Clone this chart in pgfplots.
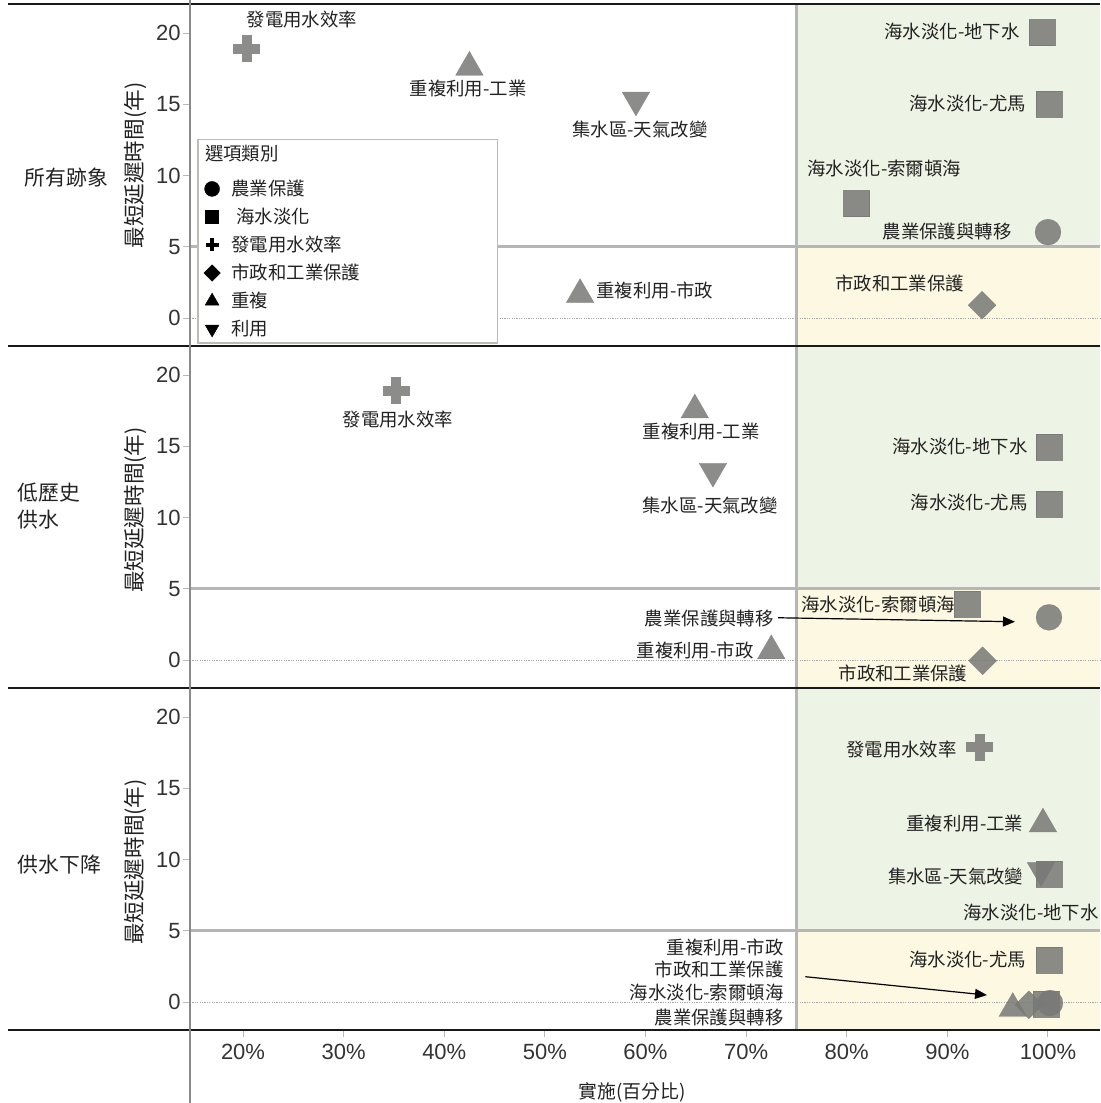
\documentclass[border=0pt]{standalone}
\usepackage{fontspec}
\setmainfont{Noto Sans CJK TC}
\newfontfamily\arialf{Liberation Sans}
\usepackage{pgfplots}
\pgfplotsset{compat=1.18}
\usetikzlibrary{arrows.meta}

\definecolor{mkgray}{HTML}{787876}
\definecolor{greenbg}{HTML}{EEF4E5}
\definecolor{yellowbg}{HTML}{FDF8E1}
\definecolor{refline}{HTML}{B6B6B6}
\definecolor{axisgray}{HTML}{8A8A8A}
\definecolor{tickc}{HTML}{333333}
\definecolor{txt}{HTML}{222222}
\definecolor{legframe}{HTML}{BEBBB2}

\newcommand\lbl{\fontsize{9.2}{11}\selectfont}
\newcommand\rowf{\fontsize{10.4}{13.5}\selectfont}
\newcommand\ylf{\fontsize{10.8}{13}\selectfont}
\newcommand\tickf{\arialf\fontsize{11}{13}\selectfont}

\tikzset{
  mkopt/.style={draw=mkgray, fill=mkgray, opacity=0.85, line width=0.1pt},
  lab/.style={font=\lbl, text=txt, inner sep=0pt},
}
\pgfplotsset{
  panel/.style={
    scale only axis, width=455pt, height=171pt,
    xmin=14.73, xmax=105.17, ymin=-1.96, ymax=22.04,
    axis x line*=bottom, axis y line*=left, xtick=\empty,
    axis line style={draw=axisgray, line width=0.6pt},
    ytick={0,5,10,15,20},
    tick align=outside, major tick length=3.5pt,
    tick style={draw=axisgray!60, line width=0.5pt},
    yticklabel style={font=\tickf, text=tickc, inner xsep=1pt},
    /pgf/number format/assume math mode=true,
    clip=false,
  },
  circ/.style={only marks, forget plot, mark=*, mark size=6.5pt, mark options={mkopt}},
  sq/.style={only marks, forget plot, mark=square*, mark size=6.5pt, mark options={mkopt}},
  pl/.style={only marks, forget plot, mark=+, mark size=6.75pt, mark options={draw=mkgray, opacity=0.85, line width=5pt}},
  dia/.style={only marks, forget plot, mark=square*, mark size=4.95pt, mark options={mkopt, rotate=45}},
  tri/.style={only marks, forget plot, mark=triangle*, mark size=8pt, mark options={mkopt}},
  dtri/.style={only marks, forget plot, mark=triangle*, mark size=8pt, mark options={mkopt, rotate=180}},
}
\newcommand\zones{%
  \fill[greenbg] (axis cs:75,5) rectangle (axis cs:105.17,22.04);
  \fill[yellowbg] (axis cs:75,-1.96) rectangle (axis cs:105.17,5);
  \draw[refline, line width=1.5pt] (axis cs:14.73,5) -- (axis cs:105.17,5);
  \draw[refline, line width=1.5pt] (axis cs:75,-1.96) -- (axis cs:75,22.04);
  \draw[gray!70, line width=0.4pt, dash pattern=on 0.6pt off 0.6pt] (axis cs:14.73,0) -- (axis cs:105.17,0);
}

\begin{document}
\begin{tikzpicture}
\path[use as bounding box] (0pt,0pt) rectangle (550pt,-551.5pt);

% ---- 所有跡象 ----
\begin{axis}[panel, at={(95pt,-2pt)}, anchor=north west,
  legend image code/.code={\path (0pt,0pt) (14pt,0pt); \draw[#1, only marks, line width=0.2pt] plot coordinates {(6.6pt,0pt)};},
  legend style={at={(axis description cs:0.00824,0.605)}, anchor=north west,
    draw=legframe, line width=0.7pt, fill=white, font=\lbl, text=txt,
    inner xsep=0pt, inner ysep=1.5pt, row sep=2.75pt,
    nodes={inner xsep=2pt, inner ysep=1pt}},
  legend cell align=left]
\zones
\addlegendimage{empty legend}
\addlegendimage{black, mark=*, mark size=3.75pt}
\addlegendimage{black, mark=square*, mark size=3.25pt}
\addlegendimage{black, mark=+, mark size=3.25pt, mark options={line width=2pt}}
\addlegendimage{black, mark=square*, mark size=2.9pt, mark options={rotate=45}}
\addlegendimage{black, mark=triangle*, mark size=4pt}
\addlegendimage{black, mark=triangle*, mark size=4pt, mark options={rotate=180}}
\addplot[circ] coordinates {(100.0,6.03)};
\addplot[sq] coordinates {(99.4,20.04) (100.1,15.0) (80.97,8.04)};
\addplot[pl] coordinates {(20.35,18.9)};
\addplot[dia] coordinates {(93.45,0.9)};
\addplot[tri] coordinates {(42.5,17.6) (53.5,1.65)};
\addplot[dtri] coordinates {(59.05,15.3)};
\node[lab] at (axis cs:25.86,20.98) {發電用水效率};
\node[lab] at (axis cs:42.36,16.14) {重複利用-工業};
\node[lab] at (axis cs:59.45,13.26) {集水區-天氣改變};
\node[lab,anchor=east] at (axis cs:97.22,20.14) {海水淡化-地下水};
\node[lab,anchor=east] at (axis cs:97.86,15.09) {海水淡化-尤馬};
\node[lab,anchor=west] at (axis cs:76.05,10.46) {海水淡化-索爾頓海};
\node[lab,anchor=east] at (axis cs:96.42,6.04) {農業保護與轉移};
\node[lab,anchor=west] at (axis cs:78.83,2.46) {市政和工業保護};
\node[lab,anchor=west] at (axis cs:55.08,1.96) {重複利用-市政};
\legend{\hspace*{-13.25pt}\raisebox{3.5pt}{選項類別}, 農業保護, \hspace*{2.5pt}海水淡化, 發電用水效率,
  \makebox[131pt][l]{市政和工業保護}, 重複, 利用}
\end{axis}

% ---- 低歷史供水 ----
\begin{axis}[panel, at={(95pt,-173pt)}, anchor=north west]
\zones
\addplot[circ] coordinates {(100.1,3.0)};
\addplot[sq] coordinates {(100.1,14.95) (100.1,10.95) (92.0,3.95)};
\addplot[pl] coordinates {(35.25,18.9)};
\addplot[dia] coordinates {(93.5,-0.05)};
\addplot[tri] coordinates {(64.9,17.55) (72.5,0.65)};
\addplot[dtri] coordinates {(66.7,13.25)};
\node[lab] at (axis cs:35.40,16.91) {發電用水效率};
\node[lab] at (axis cs:65.52,16.07) {重複利用-工業};
\node[lab] at (axis cs:66.41,10.88) {集水區-天氣改變};
\node[lab,anchor=east] at (axis cs:98.01,15.02) {海水淡化-地下水};
\node[lab,anchor=east] at (axis cs:98.01,11.09) {海水淡化-尤馬};
\node[lab,anchor=west] at (axis cs:75.45,3.93) {海水淡化-索爾頓海};
\node[lab,anchor=east] at (axis cs:72.77,2.95) {農業保護與轉移};
\node[lab,anchor=east] at (axis cs:70.78,0.70) {重複利用-市政};
\node[lab] at (axis cs:85.59,-0.91) {市政和工業保護};
\draw[-{Triangle[length=6pt,width=5pt]}, line width=0.6pt, black] (axis cs:73.17,2.97) -- (axis cs:96.72,2.69);
\end{axis}

% ---- 供水下降 ----
\begin{axis}[panel, at={(95pt,-344pt)}, anchor=north west,
  xtick={20,30,40,50,60,70,80,90,100},
  xticklabels={20\%,30\%,40\%,50\%,60\%,70\%,80\%,90\%,100\%},
  xticklabel style={font=\tickf, text=tickc}]
\zones
\addplot[circ] coordinates {(100.2,-0.07)};
\addplot[sq] coordinates {(100.1,8.98) (100.1,2.98) (99.8,-0.12)};
\addplot[pl] coordinates {(93.2,17.9)};
\addplot[dia] coordinates {(98.1,-0.19)};
\addplot[tri] coordinates {(99.5,12.5) (96.5,-0.45)};
\addplot[dtri] coordinates {(99.3,9.24)};
\node[lab,anchor=east] at (axis cs:90.96,17.75) {發電用水效率};
\node[lab,anchor=east] at (axis cs:97.58,12.56) {重複利用-工業};
\node[lab,anchor=east] at (axis cs:97.58,8.84) {集水區-天氣改變};
\node[lab,anchor=east] at (axis cs:105.07,6.32) {海水淡化-地下水};
\node[lab,anchor=east] at (axis cs:97.86,3.02) {海水淡化-尤馬};
\node[lab,anchor=east] at (axis cs:73.76,3.86) {重複利用-市政};
\node[lab,anchor=east] at (axis cs:73.76,2.32) {市政和工業保護};
\node[lab,anchor=east] at (axis cs:73.76,0.70) {海水淡化-索爾頓海};
\node[lab,anchor=east] at (axis cs:73.76,-1.05) {農業保護與轉移};
\draw[-{Triangle[length=6pt,width=5pt]}, line width=0.6pt, black] (axis cs:75.89,1.78) -- (axis cs:93.94,0.49);
\end{axis}

% row labels and axis titles
\node[anchor=west, font=\rowf, text=txt, inner sep=0pt] at (12.25pt,-89pt) {所有跡象};
\node[anchor=west, align=left, font=\rowf, text=txt, inner sep=0pt] at (8.75pt,-253.25pt) {低歷史\\供水};
\node[anchor=west, font=\rowf, text=txt, inner sep=0pt] at (8.75pt,-432.5pt) {供水下降};
\foreach \yc in {-82.75pt,-255pt,-431pt}
  \node[rotate=90, font=\ylf, text=txt, inner sep=0pt] at (67.5pt,\yc) {最短延遲時間(年)};
\node[font=\fontsize{9.4}{11}\selectfont, text=txt, inner sep=0pt] at (316pt,-546pt) {實施(百分比)};

% row separators and the left axis line
\foreach \yr in {-2pt,-173pt,-344pt,-515pt}
  \draw[line width=1.4pt, black!90] (4pt,\yr) -- (550pt,\yr);
\draw[axisgray, line width=0.6pt] (95pt,0pt) -- (95pt,-551.5pt);
\end{tikzpicture}
\end{document}
